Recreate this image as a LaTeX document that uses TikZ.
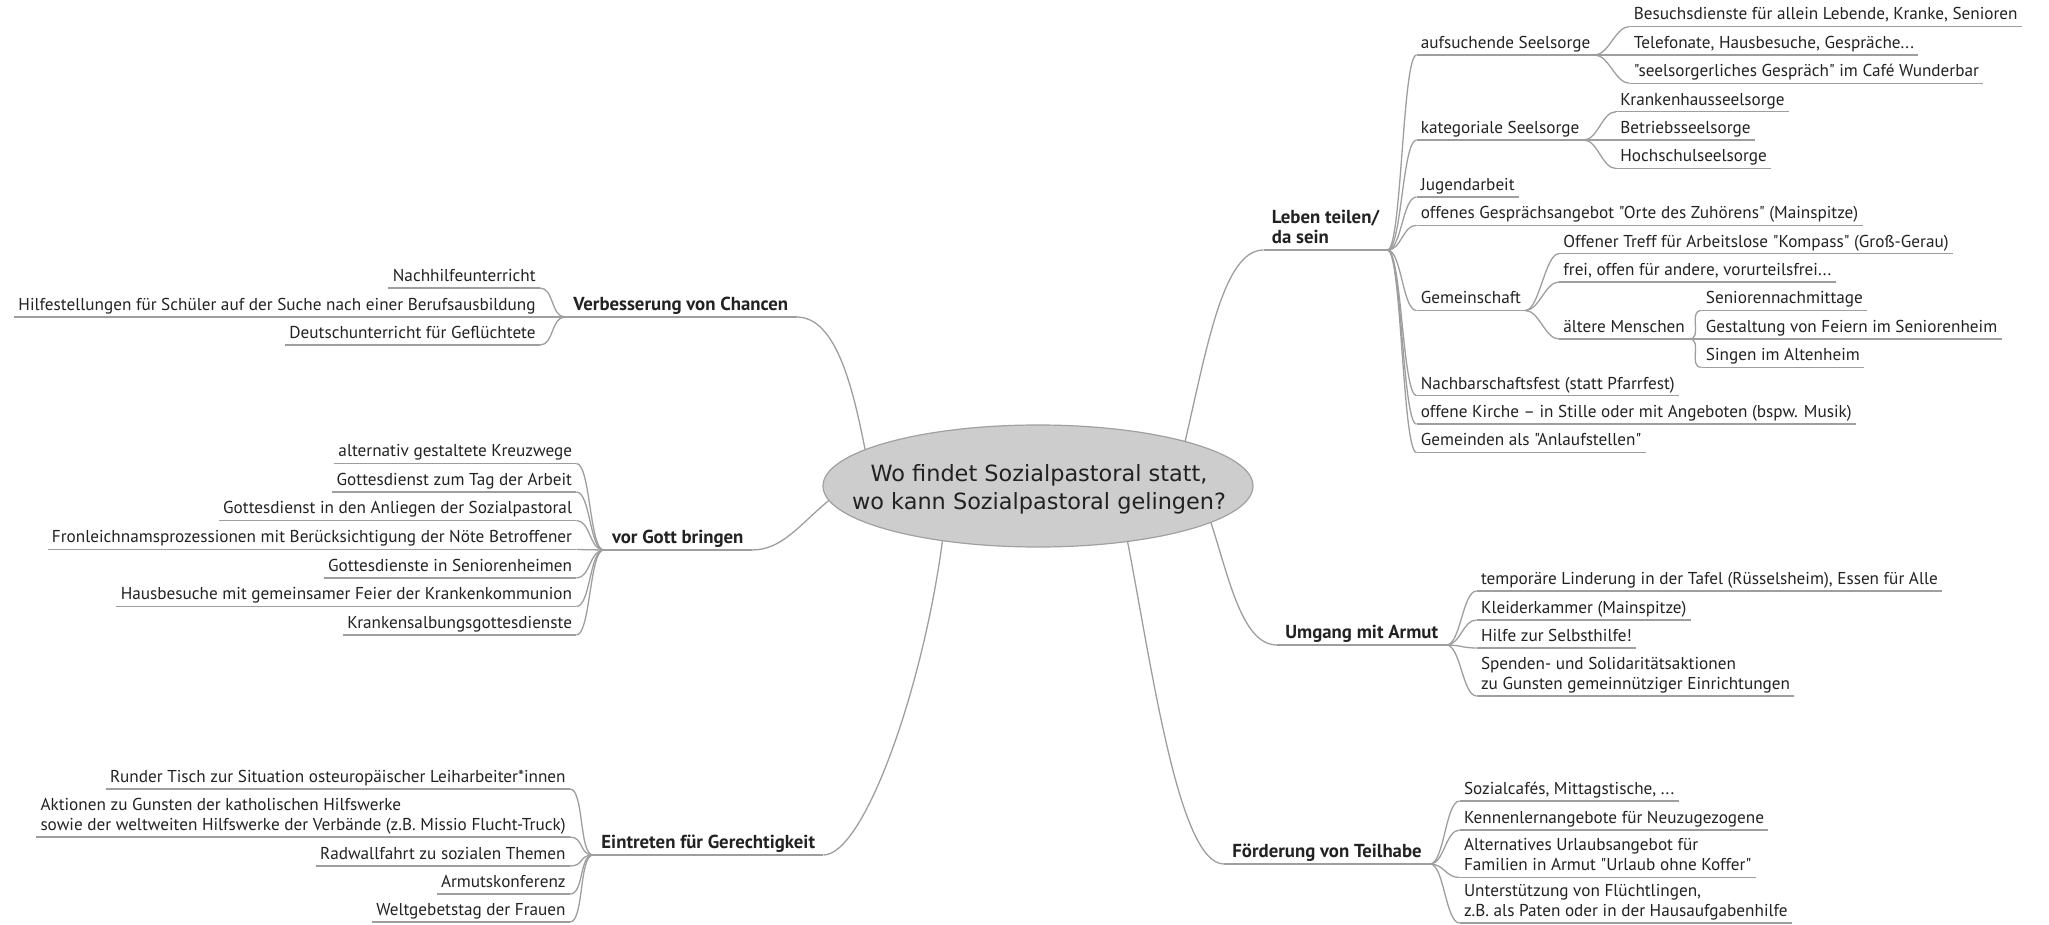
\documentclass[tikz,border=0pt]{standalone}
\usepackage{fontspec}
\setmainfont{PT Sans}[Ligatures=TeXOff]
\newfontfamily\centerfont{DejaVu Sans}
\usetikzlibrary{shapes.geometric}
\definecolor{lin}{HTML}{9E9E9E}
\definecolor{txt}{HTML}{222222}
\definecolor{ellfill}{HTML}{CDCDCD}
\definecolor{ellline}{HTML}{A0A0A0}
\tikzset{
  leafr/.style={anchor=south west, inner xsep=2pt, inner ysep=1.2pt, text=txt,
    font=\fontsize{8.6}{10}\selectfont, align=left, execute at end node={\vphantom{(g}}},
  leafl/.style={leafr, anchor=south east, align=right},
  mainr/.style={leafr, font=\fontsize{9.4}{10}\selectfont\bfseries, inner xsep=4pt},
  conn/.style={draw=lin, line width=0.65pt},
}
\newcommand\rleaf[4]{\node[leafr] (#1) at (#2,#3) {#4};\draw[conn] (#1.south west) -- (#1.south east);}
\newcommand\lleaf[4]{\node[leafl] (#1) at (#2,#3) {#4};\draw[conn] (#1.south west) -- (#1.south east);}
\newcommand\rcon[2]{\draw[conn] (#1.south east) .. controls +(14,0) and +(-14,0) .. (#2.south west);}
\newcommand\lcon[2]{\draw[conn] (#1.south west) .. controls +(-14,0) and +(14,0) .. (#2.south east);}
\begin{document}
\begin{tikzpicture}[x=0.5pt,y=-0.5pt]
\useasboundingbox (0,0) rectangle (2049,925);
% centre
\node[ellipse, minimum width=215pt, minimum height=61pt, inner sep=0pt, fill=ellfill, draw=ellline, line width=0.6pt] (ell) at (1038,486) {};
\node[font=\centerfont\fontsize{11.2}{14}\selectfont, align=center, text=txt] (elltext) at (1039,489) {Wo findet Sozialpastoral statt,\\wo kann Sozialpastoral gelingen?};
% main nodes
\node[mainr] (leben) at (1263.5,250) {Leben teilen/\\da sein};
\draw[conn] (leben.south west) -- (leben.south east);
\node[mainr] (umgang) at (1277,645) {Umgang mit Armut};
\draw[conn] (umgang.south west) -- (umgang.south east);
\node[mainr] (foerd) at (1224,864) {Förderung von Teilhabe};
\draw[conn] (foerd.south west) -- (foerd.south east);
\node[mainr] (verb) at (565,317) {Verbesserung von Chancen};
\draw[conn] (verb.south west) -- (verb.south east);
\node[mainr] (gott) at (603.6,550) {vor Gott bringen};
\draw[conn] (gott.south west) -- (gott.south east);
\node[mainr] (eintr) at (593,855) {Eintreten für Gerechtigkeit};
\draw[conn] (eintr.south west) -- (eintr.south east);
% main connectors
\draw[conn] (ell.17) .. controls +(22,-95) and +(-40,0) .. (leben.south west);
\draw[conn] (ell.348.5) .. controls +(18,55) and +(-35,0) .. (umgang.south west);
\draw[conn] (ell.328) .. controls +(25,130) and +(-45,0) .. (foerd.south west);
\draw[conn] (ell.168) .. controls +(-12,-60) and +(40,0) .. (verb.south east);
\draw[conn] (ell.184) .. controls +(-30,25) and +(30,0) .. (gott.south east);
\draw[conn] (ell.210) .. controls +(-20,150) and +(40,0) .. (eintr.south east);
% Leben teilen
\rleaf{aufs}{1416.5}{55}{aufsuchende Seelsorge}
\rleaf{besuch}{1629.5}{26.5}{Besuchsdienste für allein Lebende, Kranke, Senioren}
\rleaf{telef}{1629.5}{55}{Telefonate, Hausbesuche, Gespräche...}
\rleaf{seels}{1629.5}{83.3}{"seelsorgerliches Gespräch" im Café Wunderbar}
\rleaf{kateg}{1416.5}{140}{kategoriale Seelsorge}
\rleaf{kranken}{1616}{111.7}{Krankenhausseelsorge}
\rleaf{betrieb}{1616}{140}{Betriebsseelsorge}
\rleaf{hochsch}{1616}{168.5}{Hochschulseelsorge}
\rleaf{jugend}{1416.5}{197}{Jugendarbeit}
\rleaf{offenes}{1416.5}{225.3}{offenes Gesprächsangebot "Orte des Zuhörens" (Mainspitze)}
\rleaf{gemein}{1416.5}{310.5}{Gemeinschaft}
\rleaf{treff}{1559}{253.7}{Offener Treff für Arbeitslose "Kompass" (Groß-Gerau)}
\rleaf{frei}{1559}{282}{frei, offen für andere, vorurteilsfrei...}
\rleaf{aeltere}{1559}{339}{ältere Menschen}
\rleaf{senna}{1701.5}{310.5}{Seniorennachmittage}
\rleaf{gestalt}{1701.5}{339}{Gestaltung von Feiern im Seniorenheim}
\rleaf{singen}{1701.5}{367.3}{Singen im Altenheim}
\rleaf{nachbar}{1416.5}{395.7}{Nachbarschaftsfest (statt Pfarrfest)}
\rleaf{kirche}{1416.5}{424.1}{offene Kirche – in Stille oder mit Angeboten (bspw. Musik)}
\rleaf{gemeinden}{1416.5}{452.5}{Gemeinden als "Anlaufstellen"}
\rcon{leben}{aufs}\rcon{leben}{kateg}\rcon{leben}{jugend}\rcon{leben}{offenes}
\rcon{leben}{gemein}\rcon{leben}{nachbar}\rcon{leben}{kirche}\rcon{leben}{gemeinden}
\rcon{aufs}{besuch}\rcon{aufs}{telef}\rcon{aufs}{seels}
\rcon{kateg}{kranken}\rcon{kateg}{betrieb}\rcon{kateg}{hochsch}
\rcon{gemein}{treff}\rcon{gemein}{frei}\rcon{gemein}{aeltere}
\rcon{aeltere}{senna}\rcon{aeltere}{gestalt}\rcon{aeltere}{singen}
% Umgang mit Armut
\rleaf{tafel}{1476.6}{591}{temporäre Linderung in der Tafel (Rüsselsheim), Essen für Alle}
\rleaf{kleider}{1476.6}{620}{Kleiderkammer (Mainspitze)}
\rleaf{hilfe}{1476.6}{648}{Hilfe zur Selbsthilfe!}
\rleaf{spenden}{1476.6}{696}{Spenden- und Solidaritätsaktionen\\zu Gunsten gemeinnütziger Einrichtungen}
\rcon{umgang}{tafel}\rcon{umgang}{kleider}\rcon{umgang}{hilfe}\rcon{umgang}{spenden}
% Foerderung von Teilhabe
\rleaf{sozial}{1459.6}{801}{Sozialcafés, Mittagstische, ...}
\rleaf{kennen}{1459.6}{830}{Kennenlernangebote für Neuzugezogene}
\rleaf{urlaub}{1459.6}{877.5}{Alternatives Urlaubsangebot für\\Familien in Armut "Urlaub ohne Koffer"}
\rleaf{fluecht}{1459.6}{923}{Unterstützung von Flüchtlingen,\\z.B. als Paten oder in der Hausaufgabenhilfe}
\rcon{foerd}{sozial}\rcon{foerd}{kennen}\rcon{foerd}{urlaub}\rcon{foerd}{fluecht}
% Verbesserung von Chancen
\lleaf{nachhilfe}{540}{288}{Nachhilfeunterricht}
\lleaf{hilfest}{540}{317}{Hilfestellungen für Schüler auf der Suche nach einer Berufsausbildung}
\lleaf{deutsch}{540}{345}{Deutschunterricht für Geflüchtete}
\lcon{verb}{nachhilfe}\lcon{verb}{hilfest}\lcon{verb}{deutsch}
% vor Gott bringen
\lleaf{kreuz}{576.4}{463.5}{alternativ gestaltete Kreuzwege}
\lleaf{tagarb}{576.4}{492}{Gottesdienst zum Tag der Arbeit}
\lleaf{anliegen}{576.4}{520.5}{Gottesdienst in den Anliegen der Sozialpastoral}
\lleaf{fronl}{576.4}{549.5}{Fronleichnamsprozessionen mit Berücksichtigung der Nöte Betroffener}
\lleaf{senheim}{576.4}{578}{Gottesdienste in Seniorenheimen}
\lleaf{hausbes}{576.4}{606.5}{Hausbesuche mit gemeinsamer Feier der Krankenkommunion}
\lleaf{salbung}{576.4}{635}{Krankensalbungsgottesdienste}
\lcon{gott}{kreuz}\lcon{gott}{tagarb}\lcon{gott}{anliegen}\lcon{gott}{fronl}
\lcon{gott}{senheim}\lcon{gott}{hausbes}\lcon{gott}{salbung}
% Eintreten fuer Gerechtigkeit
\lleaf{runder}{570}{789}{Runder Tisch zur Situation osteuropäischer Leiharbeiter*innen}
\node[leafl, align=left] (aktionen) at (570,837) {Aktionen zu Gunsten der katholischen Hilfswerke\\sowie der weltweiten Hilfswerke der Verbände (z.B. Missio Flucht-Truck)};
\draw[conn] (aktionen.south west) -- (aktionen.south east);
\lleaf{radw}{570}{866}{Radwallfahrt zu sozialen Themen}
\lleaf{armut}{570}{894}{Armutskonferenz}
\lleaf{weltg}{570}{922}{Weltgebetstag der Frauen}
\lcon{eintr}{runder}\lcon{eintr}{aktionen}\lcon{eintr}{radw}\lcon{eintr}{armut}\lcon{eintr}{weltg}
\end{tikzpicture}
\end{document}
